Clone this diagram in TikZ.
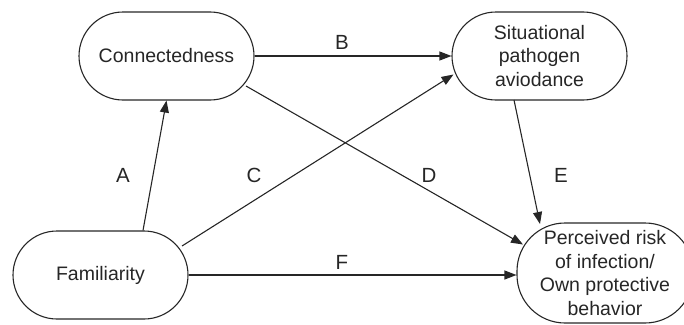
\documentclass[tikz,border=0pt]{standalone}
\usepackage{fontspec}
\setmainfont{Liberation Sans}
\usetikzlibrary{arrows.meta,calc}
\begin{document}
\begin{tikzpicture}[x=1pt,y=-1pt,
  box/.style={draw=black!85,line width=1.1pt,rounded corners=44pt,minimum width=175pt,minimum height=88pt,align=center,inner sep=0pt,font=\fontsize{19.5}{23.5}\selectfont,text=black!85},
  bigbox/.style={box,minimum width=176pt,minimum height=100pt,rounded corners=48pt},
  arr/.style={draw=black!85,line width=1.1pt,-{Triangle[length=12pt,width=9pt]}},
  lab/.style={font=\fontsize{20.5}{24}\selectfont,text=black!85,inner sep=0pt}]
\useasboundingbox (0,0) rectangle (684,324);
\node[box] (con) at (166.5,56) {Connectedness};
\node[box] (sit) at (539.5,56) {Situational\\pathogen\\aviodance};
\node[box] (fam) at (100.5,275) {Familiarity};
\node[bigbox] (per) at (605,273) {Perceived risk\\of infection/\\Own protective\\behavior};
\draw[arr] ([xshift=42.5pt]fam.north) -- (con.south);
\draw[arr] (con.east) -- (sit.west);
\draw[arr] ($(fam.center)+(81.5,-29)$) -- ($(sit.center)+(-86,18.5)$);
\draw[arr] ($(con.center)+(79.5,30)$) -- ($(per.center)+(-82,-28.5)$);
\draw[arr] ($(sit.center)+(-25.5,44)$) -- ($(per.center)+(-65,-49)$);
\draw[arr] (fam.east) -- (fam.east -| per.west);
\node[lab] (la) at (123,175) {A};
\node[lab] (lb) at (342,42) {B};
\node[lab] (lc) at (254,175) {C};
\node[lab] (ld) at (429,175) {D};
\node[lab] (le) at (561,175) {E};
\node[lab] (lf) at (342,262) {F};
\end{tikzpicture}
\end{document}
